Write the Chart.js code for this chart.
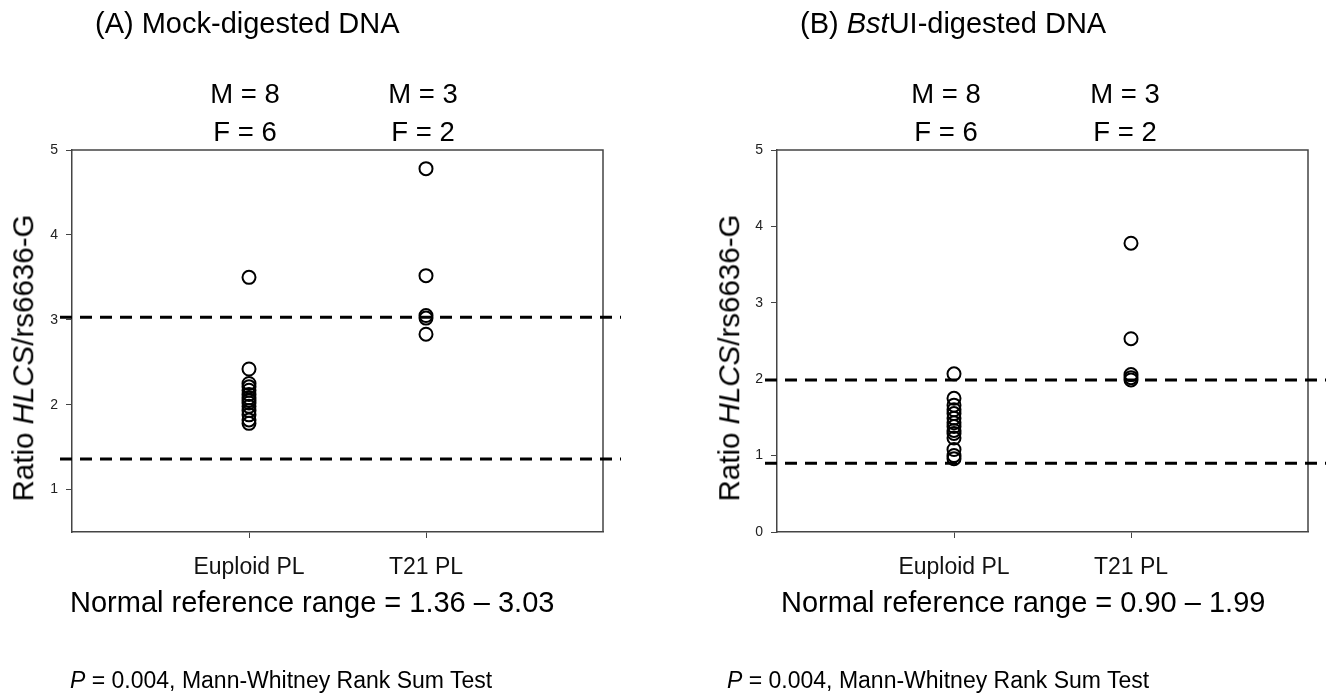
<!DOCTYPE html>
<html>
<head>
<meta charset="utf-8">
<script src="https://cdn.jsdelivr.net/npm/chart.js@4.4.1/dist/chart.umd.min.js"></script>
<style>
  body { margin: 0; background: #fff; font-family: "Liberation Sans", Arial, sans-serif; }
  #wrap { position: relative; width: 1330px; height: 693px; overflow: hidden; }
  canvas { position: absolute; top: 0; }
  .t { position: absolute; white-space: nowrap; color: #000; line-height: 1; }
  .ttl { font-size: 29px; }
  .mf { font-size: 27.5px; transform: translateX(-50%); }
  .rng { font-size: 29px; }
  .pv { font-size: 23px; }
  .ylab { font-size: 29.5px; transform: translate(-50%, -50%) rotate(-90deg); }
</style>
</head>
<body>
<div id="wrap">
  <canvas id="chartA" width="665" height="693" style="left:0"></canvas>
  <canvas id="chartB" width="665" height="693" style="left:665px"></canvas>

  <div class="t ttl" style="left:95px;top:9px">(A) Mock-digested DNA</div>
  <div class="t ttl" style="left:800px;top:9px">(B) <i>Bst</i>UI-digested DNA</div>

  <div class="t mf" style="left:245px;top:80px">M = 8</div>
  <div class="t mf" style="left:245px;top:118px">F = 6</div>
  <div class="t mf" style="left:423px;top:80px">M = 3</div>
  <div class="t mf" style="left:423px;top:118px">F = 2</div>
  <div class="t mf" style="left:946px;top:80px">M = 8</div>
  <div class="t mf" style="left:946px;top:118px">F = 6</div>
  <div class="t mf" style="left:1125px;top:80px">M = 3</div>
  <div class="t mf" style="left:1125px;top:118px">F = 2</div>

  <div class="t ylab" style="left:23px;top:358px">Ratio <i>HLCS</i>/rs6636-G</div>
  <div class="t ylab" style="left:729px;top:358px">Ratio <i>HLCS</i>/rs6636-G</div>

  <div class="t rng" style="left:70px;top:588px">Normal reference range = 1.36 – 3.03</div>
  <div class="t rng" style="left:781px;top:588px">Normal reference range = 0.90 – 1.99</div>

  <div class="t pv" style="left:70px;top:669px"><i>P</i> = 0.004, Mann-Whitney Rank Sum Test</div>
  <div class="t pv" style="left:727px;top:669px"><i>P</i> = 0.004, Mann-Whitney Rank Sum Test</div>
</div>

<script>
// groups on the x axis
const groups = ['Euploid PL', 'T21 PL'];

// (A) mock-digested
const mockEuploid = [3.50, 2.42, 2.25, 2.21, 2.17, 2.12, 2.08, 2.05, 2.02, 1.98, 1.93, 1.88, 1.82, 1.78];
const mockT21 = [4.78, 3.52, 3.05, 3.02, 2.83];
const mockRange = [1.36, 3.03];
const mockTicks = [1, 2, 3, 4, 5];

// (B) BstUI-digested
const bstEuploid = [2.07, 1.75, 1.66, 1.60, 1.55, 1.49, 1.43, 1.38, 1.33, 1.29, 1.23, 1.08, 1.00, 0.96];
const bstT21 = [3.78, 2.53, 2.06, 2.02, 1.99];
const bstRange = [0.90, 1.99];
const bstTicks = [0, 1, 2, 3, 4, 5];

function toPoints(values, group) {
  return values.map(v => ({ x: group, y: v }));
}

// dashed reference lines + box frame
const refLines = {
  id: 'refLines',
  afterDatasetsDraw(chart, args, opts) {
    const ctx = chart.ctx;
    const area = chart.chartArea;
    const y = chart.scales.y;
    ctx.save();
    ctx.strokeStyle = '#444';
    ctx.lineWidth = 1.5;
    ctx.beginPath();
    ctx.moveTo(area.left, area.top);
    ctx.lineTo(area.right, area.top);
    ctx.lineTo(area.right, area.bottom);
    ctx.stroke();
    ctx.strokeStyle = '#000';
    ctx.lineWidth = 3;
    ctx.setLineDash([12, 8]);
    opts.values.forEach(v => {
      const py = y.getPixelForValue(v);
      ctx.beginPath();
      ctx.moveTo(area.left - 12, py);
      ctx.lineTo(area.right + 18, py);
      ctx.stroke();
    });
    ctx.restore();
  }
};

function makeChart(id, euploid, t21, range, ticks, yMin, padLeft, padRight) {
  const ctx = document.getElementById(id).getContext('2d');
  return new Chart(ctx, {
    type: 'scatter',
    data: {
      datasets: [{
        data: toPoints(euploid, 1),
        pointRadius: 6.5,
        pointBorderWidth: 2,
        pointBorderColor: '#000',
        pointBackgroundColor: 'rgba(0,0,0,0)'
      }, {
        data: toPoints(t21, 2),
        pointRadius: 6.5,
        pointBorderWidth: 2,
        pointBorderColor: '#000',
        pointBackgroundColor: 'rgba(0,0,0,0)'
      }]
    },
    options: {
      responsive: false,
      animation: false,
      layout: {
        padding: { left: padLeft, right: padRight, top: 150, bottom: 101 }
      },
      scales: {
        x: {
          type: 'linear',
          min: 0,
          max: 3,
          afterBuildTicks: (scale) => { scale.ticks = [{ value: 1 }, { value: 2 }]; },
          afterFit: (scale) => { scale.height = 60; },
          ticks: {
            callback: (v) => groups[v - 1],
            color: '#111',
            font: { family: 'Liberation Sans', size: 23 },
            padding: 16,
            maxRotation: 0
          },
          grid: { drawOnChartArea: false, tickLength: 6, color: '#444' },
          border: { color: '#444', width: 1.5 }
        },
        y: {
          min: yMin,
          max: 5,
          afterBuildTicks: (scale) => { scale.ticks = ticks.map(v => ({ value: v })); },
          afterFit: (scale) => { scale.width = 72; },
          ticks: {
            color: '#222',
            font: { family: 'Liberation Sans', size: 14 },
            padding: 8
          },
          grid: { drawOnChartArea: false, tickLength: 6, color: '#444' },
          border: { color: '#444', width: 1.5 }
        }
      },
      plugins: {
        legend: { display: false },
        tooltip: { enabled: false },
        refLines: { values: range }
      }
    },
    plugins: [refLines]
  });
}

makeChart('chartA', mockEuploid, mockT21, mockRange, mockTicks, 0.5, 0, 62);
makeChart('chartB', bstEuploid, bstT21, bstRange, bstTicks, 0, 40, 22);
</script>
</body>
</html>
